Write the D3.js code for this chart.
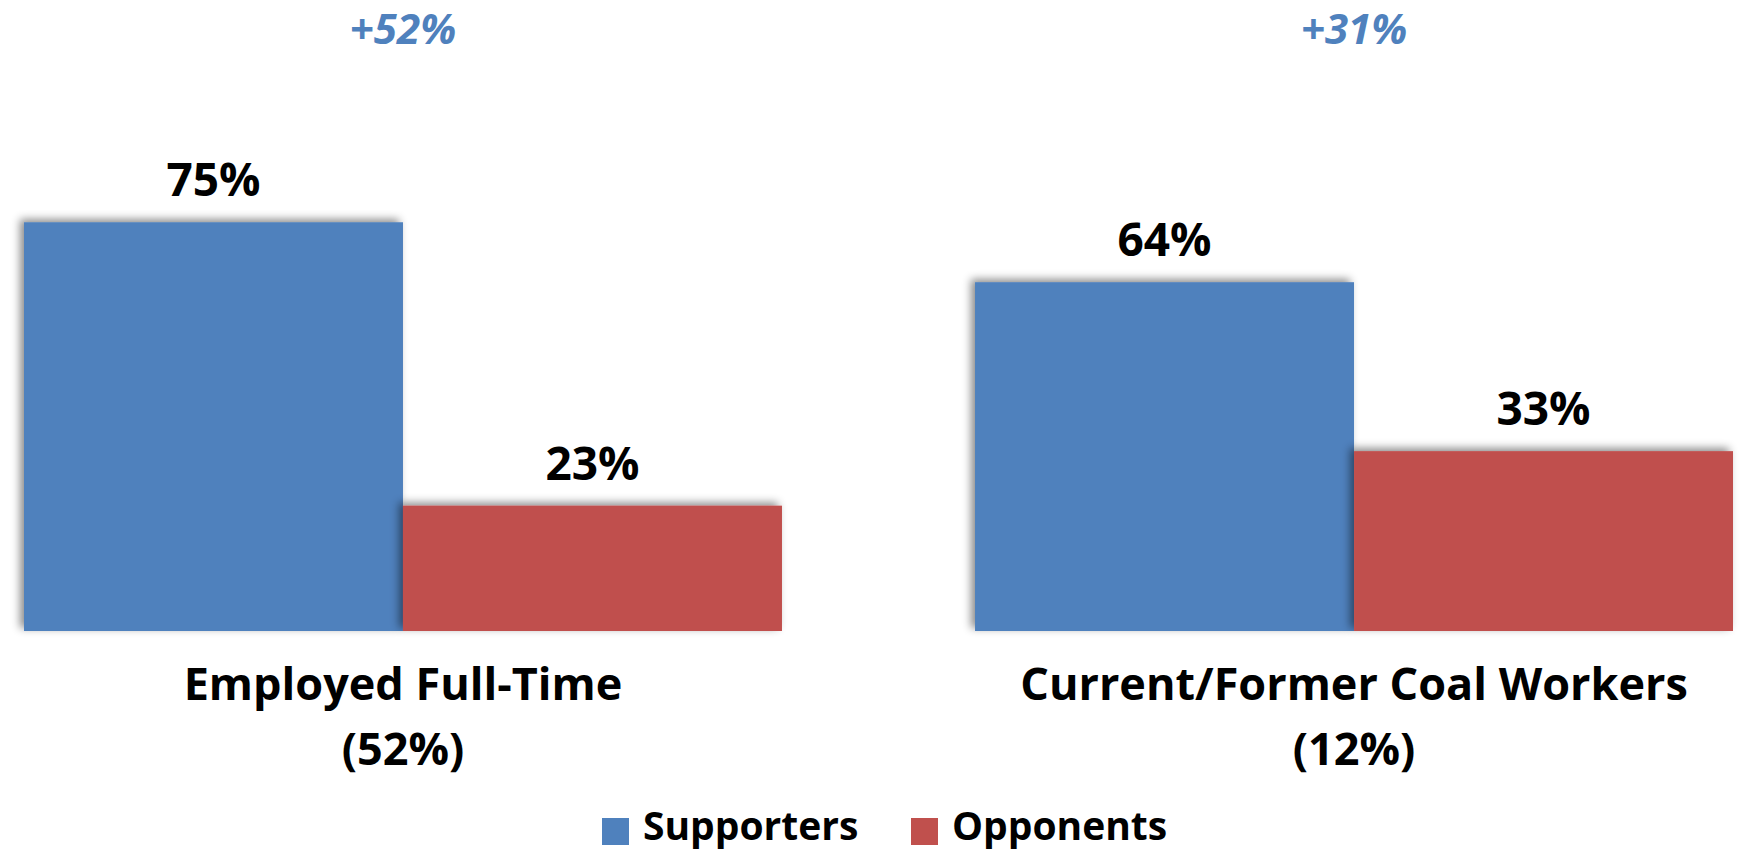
<!DOCTYPE html>
<html>
<head>
<meta charset="utf-8">
<script src="https://cdn.jsdelivr.net/npm/d3@7"></script>
<style>
  html, body { margin: 0; padding: 0; background: #fff; }
  svg { display: block; font-family: "Open Sans", Lato, sans-serif; }
</style>
</head>
<body>
<svg id="chart" width="1742" height="853"></svg>
<script>
const categories = ["Employed Full-Time", "Current/Former Coal Workers"];
const categoryShares = ["(52%)", "(12%)"];
const series = ["Supporters", "Opponents"];
const supporters = [75, 64];
const opponents = [23, 33];
const gapLabels = ["+52%", "+31%"];
const colors = ["#4F81BD", "#C0504D"];

const W = 1742, H = 853;
const svg = d3.select("#chart");

const defs = svg.append("defs");
const f = defs.append("filter").attr("id", "shadow")
  .attr("x", "-10%").attr("y", "-10%").attr("width", "120%").attr("height", "120%");
f.append("feDropShadow").attr("dx", -4).attr("dy", -3).attr("stdDeviation", 4)
  .attr("flood-color", "#000").attr("flood-opacity", 0.45);

const x0 = d3.scaleBand().domain(categories).range([24, 1733]).paddingInner(0.203).paddingOuter(0);
const x1 = d3.scaleBand().domain(series).range([0, x0.bandwidth()]).padding(0);
const y = d3.scaleLinear().domain([0, 100]).range([631, 86]);
const color = d3.scaleOrdinal().domain(series).range(colors);

const data = categories.map((c, i) => ({
  category: c, share: categoryShares[i], gap: gapLabels[i],
  values: [{ s: "Supporters", v: supporters[i] }, { s: "Opponents", v: opponents[i] }]
}));

const groups = svg.selectAll("g.group").data(data).join("g")
  .attr("class", "group")
  .attr("transform", d => `translate(${x0(d.category)},0)`);

groups.selectAll("rect").data(d => d.values).join("rect")
  .attr("x", d => x1(d.s))
  .attr("y", d => y(d.v))
  .attr("width", x1.bandwidth())
  .attr("height", d => y(0) - y(d.v))
  .attr("fill", d => color(d.s))
  .attr("filter", "url(#shadow)");

groups.selectAll("text.val").data(d => d.values).join("text")
  .attr("class", "val")
  .attr("x", d => x1(d.s) + x1.bandwidth() / 2)
  .attr("y", d => y(d.v) - 26)
  .attr("text-anchor", "middle")
  .attr("font-weight", 700)
  .attr("font-size", 46)
  .attr("fill", "#000")
  .text(d => d.v + "%");

groups.append("text")
  .attr("x", x0.bandwidth() / 2)
  .attr("y", 44)
  .attr("text-anchor", "middle")
  .attr("font-weight", 700)
  .attr("font-style", "italic")
  .attr("font-size", 42)
  .attr("fill", "#4F81BD")
  .text(d => d.gap);

groups.append("text")
  .attr("x", x0.bandwidth() / 2)
  .attr("y", 700)
  .attr("text-anchor", "middle")
  .attr("font-weight", 700)
  .attr("font-size", 45)
  .attr("fill", "#000")
  .text(d => d.category);

groups.append("text")
  .attr("x", x0.bandwidth() / 2)
  .attr("y", 765)
  .attr("text-anchor", "middle")
  .attr("font-weight", 700)
  .attr("font-size", 45)
  .attr("fill", "#000")
  .text(d => d.share);

// Legend
const legendX = [602, 911];
const legend = svg.append("g").attr("class", "legend");
const items = legend.selectAll("g").data(series).join("g")
  .attr("transform", (d, i) => `translate(${legendX[i]},818)`);
items.append("rect").attr("width", 27).attr("height", 27).attr("fill", d => color(d));
items.append("text").attr("x", 41).attr("y", 22)
  .attr("font-weight", 700).attr("font-size", 39).attr("fill", "#000")
  .text(d => d);
</script>
</body>
</html>
